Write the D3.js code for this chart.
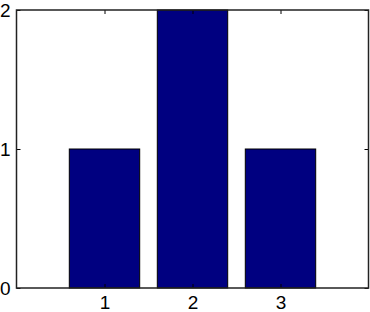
<!DOCTYPE html>
<html>
<head>
<meta charset="utf-8">
<script src="https://d3js.org/d3.v7.min.js"></script>
<style>
  body { margin: 0; background: #fff; }
</style>
</head>
<body>
<div id="chart"></div>
<script>
// Data
var categories = [1, 2, 3];
var values = [1, 2, 1];
var yTicks = [0, 1, 2];

var width = 370, height = 312;
var margin = { top: 10, right: 1.5, bottom: 24, left: 16.5 };

var x = d3.scaleLinear().domain([0, 4]).range([margin.left, width - margin.right]);
var y = d3.scaleLinear().domain([0, 2]).range([height - margin.bottom, margin.top]);

var svg = d3.select("#chart").append("svg")
  .attr("width", width).attr("height", height);

// Bars
var barW = 0.8;
svg.selectAll(".bar")
  .data(categories)
  .enter().append("rect")
  .attr("x", (d) => x(d - barW / 2))
  .attr("y", (d, i) => y(values[i]))
  .attr("width", x(barW) - x(0))
  .attr("height", (d, i) => y(0) - y(values[i]))
  .attr("fill", "#000080")
  .attr("stroke", "#000")
  .attr("stroke-width", 1);

// Axes (inward ticks, all four sides)
var tick = 4;
var fmt = d3.format("d");
svg.append("g").attr("transform", "translate(0," + y(0) + ")")
  .call(d3.axisBottom(x).tickValues(categories).tickFormat(fmt).tickSizeInner(-tick).tickSizeOuter(0).tickPadding(8))
  .call(g => g.select(".domain").remove());
svg.append("g").attr("transform", "translate(0," + y(2) + ")")
  .call(d3.axisTop(x).tickValues(categories).tickSizeInner(-tick).tickSizeOuter(0).tickFormat(""))
  .call(g => g.select(".domain").remove());
svg.append("g").attr("transform", "translate(" + x(0) + ",0)")
  .call(d3.axisLeft(y).tickValues(yTicks).tickFormat(fmt).tickSizeInner(-tick).tickSizeOuter(0).tickPadding(6))
  .call(g => g.select(".domain").remove());
svg.append("g").attr("transform", "translate(" + x(4) + ",0)")
  .call(d3.axisRight(y).tickValues(yTicks).tickSizeInner(-tick).tickSizeOuter(0).tickFormat(""))
  .call(g => g.select(".domain").remove());

svg.selectAll(".tick text").attr("font-size", 19).attr("fill", "#000")
  .attr("font-family", "Liberation Sans, Arial, sans-serif");
svg.selectAll(".tick line").attr("stroke", "#000");

// Frame
svg.append("rect")
  .attr("x", x(0)).attr("y", y(2))
  .attr("width", x(4) - x(0)).attr("height", y(0) - y(2))
  .attr("fill", "none").attr("stroke", "#222").attr("stroke-width", 1.5);
</script>
</body>
</html>
